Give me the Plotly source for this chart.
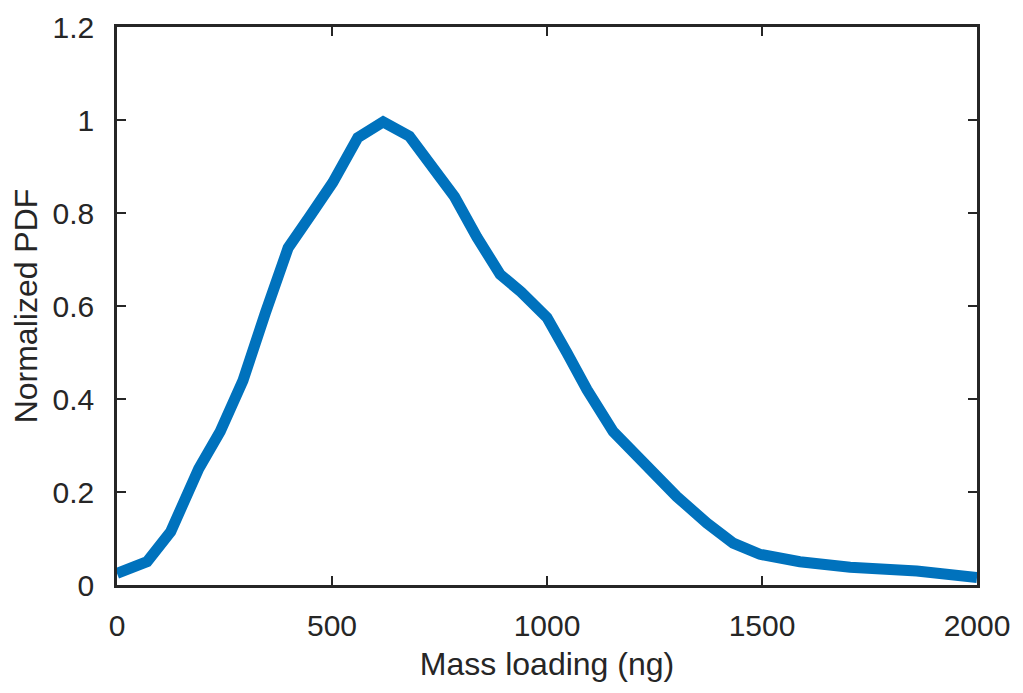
import plotly.graph_objects as go

mass_ng = [0, 70, 125, 190, 240, 293, 345, 398, 450, 502, 560, 619, 680, 735, 785,
           837, 891, 940, 1000, 1046, 1093, 1154, 1223, 1302, 1372, 1433, 1495,
           1588, 1705, 1860, 2000]
pdf_norm = [0.025, 0.05, 0.115, 0.25, 0.33, 0.44, 0.585, 0.725, 0.795, 0.866, 0.962,
            0.996, 0.965, 0.9, 0.835, 0.748, 0.668, 0.63, 0.575, 0.5, 0.42, 0.33,
            0.262, 0.19, 0.133, 0.09, 0.066, 0.05, 0.038, 0.03, 0.016]

x_ticks = [0, 500, 1000, 1500, 2000]
y_ticks = [0, 0.2, 0.4, 0.6, 0.8, 1.0, 1.2]
y_tick_text = ["0", "0.2", "0.4", "0.6", "0.8", "1", "1.2"]

axis_color = "#262626"
font_family = "Liberation Sans, Arial, sans-serif"

fig = go.Figure()
fig.add_trace(go.Scatter(
    x=mass_ng, y=pdf_norm, mode="lines",
    line=dict(color="#0072BD", width=11),
    showlegend=False,
))

fig.update_layout(
    width=1015, height=685,
    margin=dict(l=109, r=46, t=19, b=108),
    paper_bgcolor="white", plot_bgcolor="white",
    font=dict(family=font_family, color=axis_color, size=30),
)
fig.update_xaxes(
    range=[0, 2000], tickvals=x_ticks, ticks="inside", ticklen=9, tickwidth=2,
    tickcolor=axis_color, showline=True, linecolor=axis_color, linewidth=2.5,
    mirror="ticks", showgrid=False, zeroline=False, automargin=False,
    tickfont=dict(size=30), ticklabelstandoff=12,
    title=dict(text="Mass loading (ng)", font=dict(size=32), standoff=12),
)
fig.update_yaxes(
    range=[0, 1.2], tickvals=y_ticks, ticktext=y_tick_text, ticks="inside",
    ticklen=9, tickwidth=2, tickcolor=axis_color, showline=True,
    linecolor=axis_color, linewidth=2.5, mirror="ticks", showgrid=False,
    zeroline=False, automargin=False, tickfont=dict(size=30), ticklabelstandoff=14,
    title=dict(text="Normalized PDF", font=dict(size=32), standoff=12),
)

fig.write_html("out.html")
